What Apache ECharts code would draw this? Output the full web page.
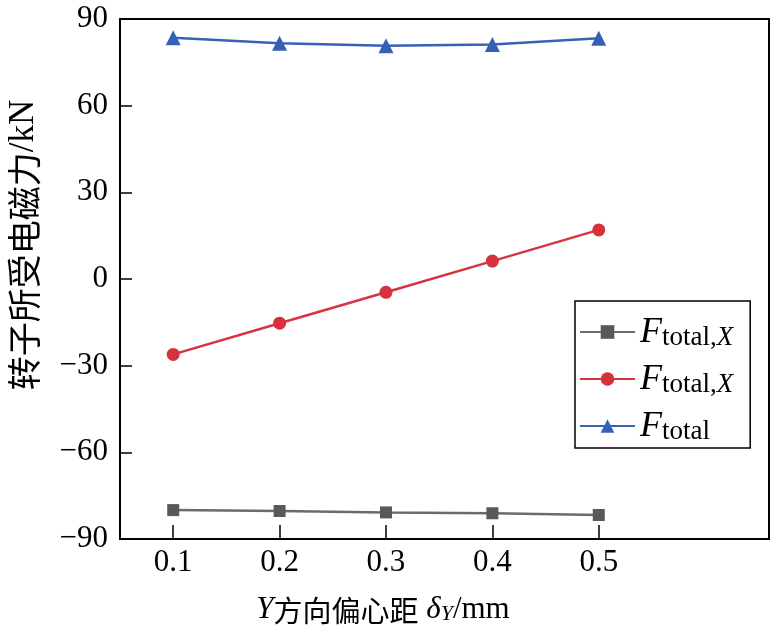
<!DOCTYPE html>
<html>
<head>
<meta charset="utf-8">
<script src="https://cdn.jsdelivr.net/npm/echarts@6/dist/echarts.min.js"></script>
<style>html,body{margin:0;padding:0;background:#fff}#c{width:771px;height:632px}</style>
</head>
<body>
<div id="c"></div>
<script>
const xValues = [0.1, 0.2, 0.3, 0.4, 0.5];
const xTickValues = [0.1, 0.2, 0.3, 0.4, 0.5];
const seriesGray = [-80.0, -80.3, -80.8, -81.1, -81.7];
const seriesRed = [-26.1, -15.3, -4.6, 6.2, 17.0];
const seriesBlue = [83.5, 81.6, 80.7, 81.2, 83.3];
const seriesNames = ['Ftotal,X (1)', 'Ftotal,X (2)', 'Ftotal'];
const legendLabels = ['{F|F}{s|total,}{x|X}', '{F|F}{s|total,}{x|X}', '{F|F}{s|total}'];

const serif = 'Liberation Serif';
const cjk = 'Noto Sans CJK SC';

function pairs(vals) { return xValues.map((x, i) => [x, vals[i]]); }

const chart = echarts.init(document.getElementById('c'), null, {renderer: 'canvas'});
chart.setOption({
  backgroundColor: '#fff',
  animation: false,
  grid: {left: 120, top: 19, right: 2, bottom: 93, show: true, borderColor: '#000', borderWidth: 2, backgroundColor: 'transparent'},
  xAxis: {
    type: 'value', min: 0.05, max: 0.66,
    axisLine: {show: true, onZero: false, lineStyle: {color: '#000', width: 2}},
    axisTick: {show: true, inside: true, length: 14, customValues: xTickValues, lineStyle: {color: '#000', width: 1.5}},
    axisLabel: {customValues: xTickValues, margin: 8, color: '#000', fontFamily: serif, fontSize: 31, formatter: v => v.toFixed(1)},
    splitLine: {show: false}
  },
  yAxis: {
    type: 'value', min: -90, max: 90, interval: 30,
    axisLine: {show: true, onZero: false, lineStyle: {color: '#000', width: 2}},
    axisTick: {show: true, inside: true, length: 12, lineStyle: {color: '#000', width: 1.5}},
    axisLabel: {margin: 12, color: '#000', fontFamily: serif, fontSize: 31, formatter: v => v < 0 ? '\u2212' + Math.abs(v) : String(v)},
    splitLine: {show: false}
  },
  legend: {
    orient: 'vertical', left: 575, top: 301,
    data: seriesNames,
    backgroundColor: '#fff',
    borderColor: '#000', borderWidth: 1.5,
    padding: [14, 17, 3, 4],
    itemWidth: 55, itemHeight: 17, itemGap: 11,
    formatter: name => legendLabels[seriesNames.indexOf(name)],
    textStyle: {
      color: '#000',
      rich: {
        F: {fontFamily: serif, fontStyle: 'italic', fontSize: 36, lineHeight: 38, verticalAlign: 'bottom', color: '#000'},
        s: {fontFamily: serif, fontSize: 27, lineHeight: 26, verticalAlign: 'bottom', color: '#000'},
        x: {fontFamily: serif, fontStyle: 'italic', fontSize: 27, lineHeight: 26, verticalAlign: 'bottom', color: '#000'}
      }
    }
  },
  series: [
    {name: seriesNames[0], type: 'line', data: pairs(seriesGray), symbol: 'rect', symbolSize: 12,
     lineStyle: {color: '#6b6b6b', width: 2.5}, itemStyle: {color: '#595959'}},
    {name: seriesNames[1], type: 'line', data: pairs(seriesRed), symbol: 'circle', symbolSize: 13,
     lineStyle: {color: '#d83440', width: 2.5}, itemStyle: {color: '#d8303c'}},
    {name: seriesNames[2], type: 'line', data: pairs(seriesBlue), symbol: 'triangle', symbolSize: 15,
     lineStyle: {color: '#3862b8', width: 2.5}, itemStyle: {color: '#3560b5'}}
  ],
  graphic: [
    {type: 'text', x: 24, y: 245, rotation: Math.PI / 2,
     style: {text: '{c|转子所受电磁力}{e|/kN}', align: 'center', verticalAlign: 'middle',
       rich: {c: {fontFamily: cjk, fontSize: 34, color: '#000'}, e: {fontFamily: serif, fontSize: 35, color: '#000'}}}},
    {type: 'text', x: 383, y: 607,
     style: {text: '{i|Y}{c|方向偏心距}{d| δ}{sub|Y}{e|/mm}', align: 'center', verticalAlign: 'middle',
       rich: {
         i: {fontFamily: serif, fontStyle: 'italic', fontSize: 31, lineHeight: 36, verticalAlign: 'bottom', color: '#000'},
         c: {fontFamily: cjk, fontSize: 29, lineHeight: 36, verticalAlign: 'bottom', color: '#000'},
         d: {fontFamily: serif, fontStyle: 'italic', fontSize: 31, lineHeight: 36, verticalAlign: 'bottom', color: '#000'},
         sub: {fontFamily: serif, fontStyle: 'italic', fontSize: 22, lineHeight: 10, verticalAlign: 'bottom', color: '#000'},
         e: {fontFamily: serif, fontSize: 31, lineHeight: 36, verticalAlign: 'bottom', color: '#000'}
       }}}
  ]
});
</script>
</body>
</html>
